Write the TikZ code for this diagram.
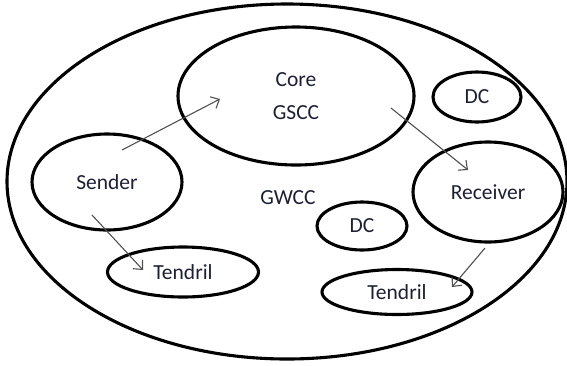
\documentclass[tikz,border=0pt]{standalone}
\usepackage{fontspec}
\setmainfont{Carlito}
\usetikzlibrary{shapes.geometric,arrows.meta}
\definecolor{txt}{RGB}{28,32,50}
\definecolor{arrgray}{RGB}{80,80,80}
\begin{document}
\begin{tikzpicture}[x=1pt,y=-1pt,
  blob/.style={draw=black,ellipse,line width=3.1pt,inner sep=0pt,
    text=txt,font=\fontsize{21.5}{33}\selectfont,align=center},
  lbl/.style={text=txt,font=\fontsize{21.5}{24}\selectfont,inner sep=0pt},
  arr/.style={draw=arrgray,line width=1.1pt,-{Straight Barb[length=7pt,width=13pt]}}]
\useasboundingbox (0,0) rectangle (567,365);
\node[blob,minimum width=560pt,minimum height=355pt] (outer) at (287,181.5) {};
\node[blob,minimum width=236pt,minimum height=138pt] (core) at (296,96) {Core\\GSCC};
\node[blob,minimum width=88pt,minimum height=50pt] (dc1) at (477,97) {DC};
\node[blob,minimum width=150pt,minimum height=100pt] (recv) at (488,192) {Receiver};
\node[blob,minimum width=90pt,minimum height=48pt] (dc2) at (362,226) {DC};
\node[blob,minimum width=150pt,minimum height=45pt] (tend2) at (397,292) {Tendril};
\node[blob,minimum width=150pt,minimum height=96pt] (sender) at (107,182) {Sender};
\node[blob,minimum width=151pt,minimum height=50pt] (tend1) at (183,272) {Tendril};
\node[lbl] (gwcc) at (288,198) {GWCC};
\draw[arr] ([shift={(15,-32)}]sender.center) -- ([shift={(-76,3)}]core.center);
\draw[arr] ([shift={(95,12)}]core.center) -- ([shift={(-20,-22)}]recv.center);
\draw[arr] ([shift={(-15,33)}]sender.center) -- ([shift={(-40,-2)}]tend1.center);
\draw[arr] ([shift={(-3,56)}]recv.center) -- ([shift={(55,-5)}]tend2.center);
\end{tikzpicture}
\end{document}
